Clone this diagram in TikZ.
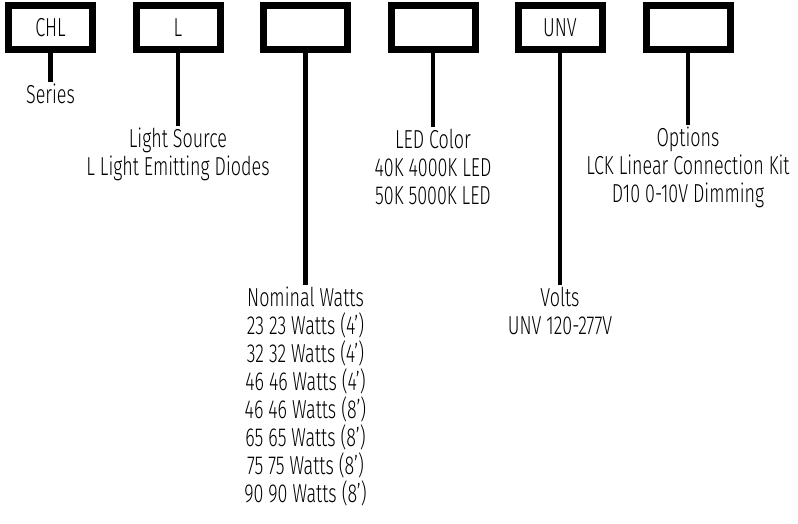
\documentclass[tikz,border=0pt]{standalone}
\usepackage{fontspec}
\setmainfont{Fira Sans}[UprightFont=* Light, FakeStretch=0.69]
\usetikzlibrary{positioning}

\begin{document}
\begin{tikzpicture}[
  x=1pt, y=1pt,
  codebox/.style={draw, line width=7pt, minimum width=84pt, minimum height=44pt,
                  inner sep=0pt, font=\fontsize{26}{28}\selectfont},
  field/.style={align=center, anchor=north, inner xsep=0pt, inner ysep=2pt,
                font=\fontsize{26}{28}\selectfont},
  link/.style={line width=4.5pt}
]
  \useasboundingbox (0,0) rectangle (798,-523);

  % ordering code boxes
  \node[codebox] (chl)   at (50.5,-27.5)  {CHL};
  \node[codebox] (led)   at (178,-27.5)   {L};
  \node[codebox] (watt)  at (305.5,-27.5) {};
  \node[codebox] (color) at (433,-27.5)   {};
  \node[codebox] (unv)   at (560,-27.5)   {UNV};
  \node[codebox] (opt)   at (688,-27.5)   {};

  % field descriptions
  \node[field] (series)  at (50.5,-82)  {Series};
  \node[field] (source)  at (178,-126)  {Light Source\\L Light Emitting Diodes};
  \node[field] (watts)   at (305.5,-285) {Nominal Watts\\23 23 Watts (4')\\32 32 Watts (4')\\46 46 Watts (4')\\46 46 Watts (8')\\65 65 Watts (8')\\75 75 Watts (8')\\90 90 Watts (8')};
  \node[field] (ledcol)  at (433,-127)  {LED Color\\40K 4000K LED\\50K 5000K LED};
  \node[field] (volts)   at (560,-285)  {Volts\\UNV 120-277V};
  \node[field] (options) at (688,-125)  {Options\\LCK Linear Connection Kit\\D10 0-10V Dimming};

  \draw[link] (chl) -- (series);
  \draw[link] (led) -- (source);
  \draw[link] (watt) -- (watts);
  \draw[link] (color) -- (ledcol);
  \draw[link] (unv) -- (volts);
  \draw[link] (opt) -- (options);
\end{tikzpicture}
\end{document}
